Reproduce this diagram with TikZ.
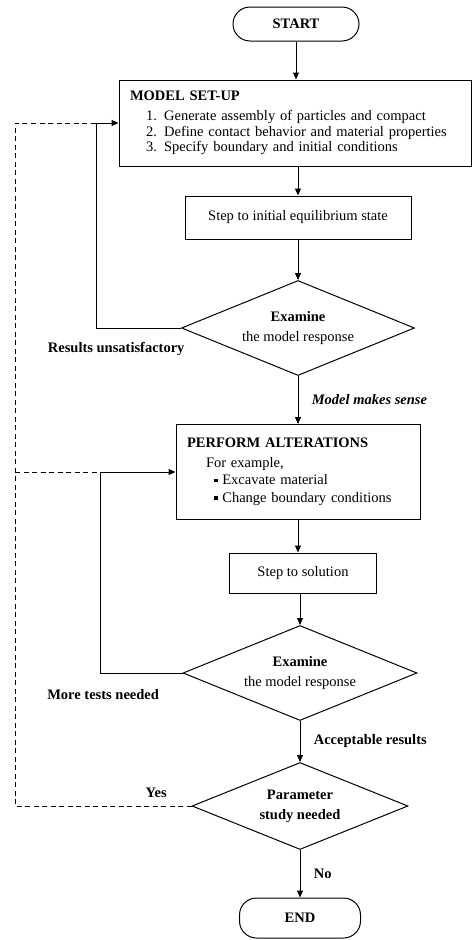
\documentclass[tikz,border=0pt]{standalone}
\usepackage{fontspec}
\setmainfont{Liberation Serif}
\usepackage{tikz}
\usetikzlibrary{positioning,arrows.meta,calc,shapes}

\newcommand{\sqbul}{\rule[2.5pt]{3.5pt}{3.5pt}}

\begin{document}
\begin{tikzpicture}[
    x=1pt, y=1pt,
    every node/.style={font=\fontsize{14.5}{15.5}\selectfont},
    block/.style={draw, line width=1pt, align=center, fill=white, inner sep=4pt, font=\fontsize{14.5}{15.5}\selectfont},
    terminal/.style={block, rounded corners=17pt, font=\fontsize{14.5}{15.5}\selectfont\bfseries},
    decision/.style={draw, line width=1pt, diamond, aspect=2.45, align=center, inner sep=0pt, font=\fontsize{14.5}{20}\selectfont},
    arrow/.style={-{Triangle[length=7pt,width=6pt]}, line width=1pt},
    feedback/.style={line width=1pt, dash pattern=on 5pt off 3.5pt},
    lbl/.style={font=\fontsize{14.5}{15.5}\selectfont\bfseries}
]
\useasboundingbox (0,0) rectangle (474,-940);

\node[terminal, minimum width=126pt, minimum height=34pt] (start) at (296,-24) {START};
\node[block, align=left, text width=330pt, inner xsep=11pt, minimum height=86pt] (setup) at (295,-123) {\textbf{MODEL SET-UP}\\[5pt]
\hspace*{16pt}1. Generate assembly of particles and compact\\
\hspace*{16pt}2. Define contact behavior and material properties\\
\hspace*{16pt}3. Specify boundary and initial conditions};
\node[block, minimum width=226pt, minimum height=43pt] (init) at (298,-217.5) {Step to initial equilibrium state};
\node[decision, minimum width=233pt, minimum height=95pt] (exam1) at (298,-328) {\textbf{Examine}\\the model response};
\node[block, align=left, text width=222pt, inner xsep=11pt, minimum height=95pt] (alter) at (298,-472) {\textbf{PERFORM ALTERATIONS}\\[4pt]
\hspace*{19pt}For example,\\[2pt]
\hspace*{27pt}\sqbul\ Excavate material\\[2pt]
\hspace*{27pt}\sqbul\ Change boundary conditions};
\node[block, minimum width=147pt, minimum height=40pt] (sol) at (303,-573) {Step to solution};
\node[decision, minimum width=234pt, minimum height=95pt] (exam2) at (300,-673) {\textbf{Examine}\\the model response};
\node[decision, aspect=2.48, minimum width=216pt, minimum height=87pt, font=\fontsize{14.5}{20}\selectfont\bfseries] (param) at (300,-806) {Parameter\\study needed};
\node[terminal, minimum width=121pt, minimum height=40pt] (end) at (300,-918) {END};

% return columns
\coordinate (back1) at (96,0);
\coordinate (back2) at (100,0);
\coordinate (back3) at (15,0);

\draw[arrow] (start.south) -- (start.south |- setup.north);
\draw[arrow] (init.north |- setup.south) -- (init.north);
\draw[arrow] (init) -- (exam1);
\draw[arrow] (exam1) -- (alter) node[midway, right=10pt, lbl, font=\fontsize{14.5}{15.5}\selectfont\bfseries\itshape] {Model makes sense};
\draw[arrow] (alter.south) -- (alter.south |- sol.north);
\draw[arrow] (exam2.north |- sol.south) -- (exam2.north);
\draw[arrow] (exam2) -- (param) node[midway, right=10pt, lbl] {Acceptable results};
\draw[arrow] (param) -- (end) node[midway, right=10pt, lbl] {No};

\draw[arrow] (exam1.west) -- (exam1.west -| back1) |- (setup.west);
\draw[arrow] (exam2.west) -- (exam2.west -| back2) |- (alter.west);
\node[lbl, anchor=east] (unsat) at ([xshift=7pt,yshift=-21pt]exam1.west) {Results unsatisfactory};
\node[lbl, anchor=east] (more) at ([xshift=-20pt,yshift=-22pt]exam2.west) {More tests needed};

\draw[feedback] (param.west) -- node[pos=0.2, above=5pt, lbl] {Yes} (param.west -| back3) -- (back3 |- setup.west) -- (back1 |- setup.west);
\draw[feedback] (back3 |- alter.west) -- (back2 |- alter.west);

\end{tikzpicture}
\end{document}
